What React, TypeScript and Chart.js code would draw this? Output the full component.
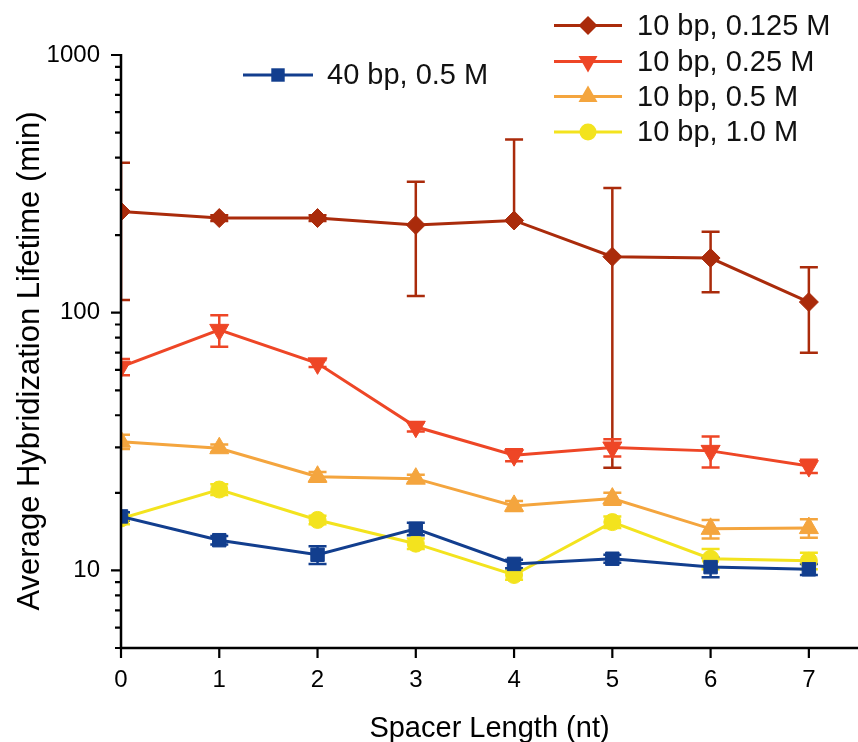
import React, { useEffect, useRef } from 'react';
import { Chart, registerables } from 'chart.js';

Chart.register(...registerables);

// ---------- data ----------
const SPACER_LENGTH = [0, 1, 2, 3, 4, 5, 6, 7];
const X_TICKS = [0, 1, 2, 3, 4, 5, 6, 7];
const Y_MAJOR_TICKS = [10, 100, 1000];
const Y_MINOR_TICKS = [5, 6, 7, 8, 9, 20, 30, 40, 50, 60, 70, 80, 90, 200, 300, 400, 500, 600, 700, 800, 900];

const LIFETIME_10BP_0125M = [247, 233, 233, 219, 228, 165, 163, 110];
const ERROR_10BP_0125M = [135, 6, 6, 103, 242, 140, 43, 40];

const LIFETIME_10BP_025M = [61.7, 85.8, 63.6, 36.1, 28.0, 30.0, 29.1, 25.4];
const ERROR_10BP_025M = [4.5, 12, 2, 1.5, 1.5, 2.3, 4, 1.5];

const LIFETIME_10BP_05M = [31.6, 29.8, 23.1, 22.7, 17.8, 19.0, 14.5, 14.6];
const ERROR_10BP_05M = [2, 1, 1, 0.8, 0.8, 1, 1.2, 1.2];

const LIFETIME_10BP_10M = [15.9, 20.6, 15.7, 12.7, 9.6, 15.4, 11.1, 10.9];
const ERROR_10BP_10M = [0.8, 1, 0.6, 0.6, 0.4, 0.8, 1, 0.8];

const LIFETIME_40BP_05M = [16.2, 13.1, 11.5, 14.5, 10.6, 11.1, 10.3, 10.1];
const ERROR_40BP_05M = [0.6, 0.5, 0.9, 0.8, 0.4, 0.4, 0.9, 0.5];

const LABELS = ['10 bp, 0.125 M', '10 bp, 0.25 M', '10 bp, 0.5 M', '10 bp, 1.0 M', '40 bp, 0.5 M'];
const X_TITLE = 'Spacer Length (nt)';
const Y_TITLE = 'Average Hybridization Lifetime (min)';

// ---------- styles ----------
const FONT = '"Liberation Sans", Arial, Helvetica, sans-serif';
const COLORS = ['#AA2B0B', '#EE4626', '#F4A53E', '#F3E31E', '#123E8E'];
const POINT_STYLES = ['rectRot', 'triangle', 'triangle', 'circle', 'rect'];
const POINT_ROTATIONS = [0, 180, 0, 0, 0];
const POINT_RADII = [9.5, 11, 11, 8.5, 9.5];

const SERIES = [
  { values: LIFETIME_10BP_0125M, errors: ERROR_10BP_0125M },
  { values: LIFETIME_10BP_025M, errors: ERROR_10BP_025M },
  { values: LIFETIME_10BP_05M, errors: ERROR_10BP_05M },
  { values: LIFETIME_10BP_10M, errors: ERROR_10BP_10M },
  { values: LIFETIME_40BP_05M, errors: ERROR_40BP_05M },
];

// legend layout: [lineStartX, lineEndX, centerY, textX]
const LEGEND_POS = [
  [554, 622, 25.5, 637],
  [554, 622, 61.5, 637],
  [554, 622, 96.5, 637],
  [554, 622, 132, 637],
  [243, 313, 75, 327],
];

function shapePath(ctx: CanvasRenderingContext2D, style: string, x: number, y: number, r: number, rotDeg: number) {
  ctx.beginPath();
  if (style === 'circle') {
    ctx.arc(x, y, r, 0, Math.PI * 2);
  } else if (style === 'rect') {
    const s = Math.SQRT1_2 * r;
    ctx.rect(x - s, y - s, 2 * s, 2 * s);
  } else if (style === 'rectRot') {
    ctx.moveTo(x, y - r);
    ctx.lineTo(x + r, y);
    ctx.lineTo(x, y + r);
    ctx.lineTo(x - r, y);
    ctx.closePath();
  } else {
    let rad = (rotDeg * Math.PI) / 180;
    ctx.moveTo(x + Math.sin(rad) * r, y - Math.cos(rad) * r);
    rad += (2 * Math.PI) / 3;
    ctx.lineTo(x + Math.sin(rad) * r, y - Math.cos(rad) * r);
    rad += (2 * Math.PI) / 3;
    ctx.lineTo(x + Math.sin(rad) * r, y - Math.cos(rad) * r);
    ctx.closePath();
  }
}

const errorBarPlugin = {
  id: 'errorBars',
  beforeDatasetsDraw(chart: any) {
    const { ctx, chartArea, scales } = chart;
    const xs = scales.x;
    const ys = scales.y;
    ctx.save();
    ctx.beginPath();
    ctx.rect(chartArea.left, chartArea.top, chartArea.right - chartArea.left, chartArea.bottom - chartArea.top);
    ctx.clip();
    ctx.lineWidth = 2.5;
    const cap = 9;
    SERIES.forEach((s, si) => {
      ctx.strokeStyle = COLORS[si];
      s.values.forEach((v, i) => {
        const e = s.errors[i];
        const px = xs.getPixelForValue(SPACER_LENGTH[i]);
        const py = ys.getPixelForValue(v);
        const hi = ys.getPixelForValue(v + e);
        ctx.beginPath();
        ctx.moveTo(px, py);
        ctx.lineTo(px, hi);
        ctx.moveTo(px - cap, hi);
        ctx.lineTo(px + cap, hi);
        if (v - e > 0) {
          const lo = ys.getPixelForValue(v - e);
          ctx.moveTo(px, py);
          ctx.lineTo(px, lo);
          ctx.moveTo(px - cap, lo);
          ctx.lineTo(px + cap, lo);
        }
        ctx.stroke();
      });
    });
    ctx.restore();
  },
};

const axesPlugin = {
  id: 'axesTicks',
  afterDatasetsDraw(chart: any) {
    const { ctx, chartArea, scales } = chart;
    const xs = scales.x;
    const ys = scales.y;
    ctx.save();
    ctx.strokeStyle = '#000';
    ctx.lineWidth = 2.5;
    ctx.beginPath();
    ctx.moveTo(chartArea.left, ys.getPixelForValue(1000) - 1);
    ctx.lineTo(chartArea.left, chartArea.bottom);
    ctx.lineTo(chart.width, chartArea.bottom);
    ctx.stroke();
    ctx.lineWidth = 2.2;
    ctx.beginPath();
    Y_MAJOR_TICKS.forEach((v) => {
      const py = ys.getPixelForValue(v);
      ctx.moveTo(chartArea.left - 10, py);
      ctx.lineTo(chartArea.left, py);
    });
    Y_MINOR_TICKS.forEach((v) => {
      const py = ys.getPixelForValue(v);
      ctx.moveTo(chartArea.left - 6, py);
      ctx.lineTo(chartArea.left, py);
    });
    X_TICKS.forEach((v) => {
      const px = xs.getPixelForValue(v);
      ctx.moveTo(px, chartArea.bottom);
      ctx.lineTo(px, chartArea.bottom + 10);
    });
    ctx.stroke();

    // x tick labels
    ctx.fillStyle = '#000';
    ctx.font = `24px ${FONT}`;
    ctx.textAlign = 'center';
    ctx.textBaseline = 'middle';
    X_TICKS.forEach((v) => {
      ctx.fillText(String(v), xs.getPixelForValue(v), chartArea.bottom + 32);
    });

    // y-axis title (rotated)
    ctx.font = `31px ${FONT}`;
    ctx.translate(30, 361);
    ctx.rotate(-Math.PI / 2);
    ctx.fillText(Y_TITLE, 0, 0);
    ctx.restore();
  },
};

const legendPlugin = {
  id: 'customLegend',
  afterDraw(chart: any) {
    const { ctx } = chart;
    ctx.save();
    LABELS.forEach((label, i) => {
      const [x0, x1, cy, tx] = LEGEND_POS[i];
      ctx.strokeStyle = COLORS[i];
      ctx.lineWidth = 3;
      ctx.beginPath();
      ctx.moveTo(x0, cy);
      ctx.lineTo(x1, cy);
      ctx.stroke();
      shapePath(ctx, POINT_STYLES[i], (x0 + x1) / 2, cy, POINT_RADII[i], POINT_ROTATIONS[i]);
      ctx.fillStyle = COLORS[i];
      ctx.fill();
      ctx.fillStyle = '#111';
      ctx.font = `29px ${FONT}`;
      ctx.textAlign = 'left';
      ctx.textBaseline = 'middle';
      ctx.fillText(label, tx, cy + 1);
    });
    ctx.restore();
  },
};

export default function App() {
  const canvasRef = useRef<HTMLCanvasElement | null>(null);

  useEffect(() => {
    const canvas = canvasRef.current;
    if (!canvas) return;
    const datasets = SERIES.map((s, i) => ({
      label: LABELS[i],
      data: s.values.map((v, j) => ({ x: SPACER_LENGTH[j], y: v })),
      borderColor: COLORS[i],
      backgroundColor: COLORS[i],
      borderWidth: 3,
      pointStyle: POINT_STYLES[i],
      pointRotation: POINT_ROTATIONS[i],
      pointRadius: POINT_RADII[i],
      pointHoverRadius: POINT_RADII[i],
      pointBackgroundColor: COLORS[i],
      pointBorderColor: COLORS[i],
      pointBorderWidth: 1,
      tension: 0,
      fill: false,
      clip: 0,
      order: 4 - i,
    }));

    const chart = new Chart(canvas, {
      type: 'line',
      data: { datasets },
      plugins: [errorBarPlugin, axesPlugin, legendPlugin],
      options: {
        animation: false,
        responsive: false,
        events: [],
        layout: { autoPadding: false, padding: { top: 55, left: 0, right: 0, bottom: 0 } },
        plugins: { legend: { display: false }, tooltip: { enabled: false } },
        scales: {
          x: {
            type: 'linear',
            min: 0,
            max: 7.5,
            grid: { display: false, drawTicks: false },
            border: { display: false },
            afterBuildTicks: (s: any) => {
              s.ticks = X_TICKS.map((v) => ({ value: v }));
            },
            afterFit: (s: any) => {
              s.height = 94;
            },
            ticks: { display: false },
            title: {
              display: true,
              text: X_TITLE,
              color: '#000',
              font: { family: FONT, size: 29, lineHeight: 1 },
              padding: { top: 0, bottom: -1 },
            },
          },
          y: {
            type: 'logarithmic',
            min: 5,
            max: 1000,
            grid: { display: false, drawTicks: false },
            border: { display: false },
            afterBuildTicks: (s: any) => {
              s.ticks = Y_MAJOR_TICKS.map((v) => ({ value: v, major: true }));
            },
            afterFit: (s: any) => {
              s.width = 121;
              s.paddingTop = 0;
              s.paddingBottom = 0;
            },
            ticks: {
              color: '#000',
              font: { family: FONT, size: 24 },
              padding: 21,
              autoSkip: false,
              callback: (v: any) => String(v),
            },
            title: { display: false },
          },
        },
      } as any,
    });
    return () => chart.destroy();
  }, []);

  return (
    <div style={{ position: 'absolute', left: 0, top: 0, width: 858, height: 742, background: '#fff' }}>
      <canvas ref={canvasRef} width={858} height={742} style={{ display: 'block' }} />
    </div>
  );
}
